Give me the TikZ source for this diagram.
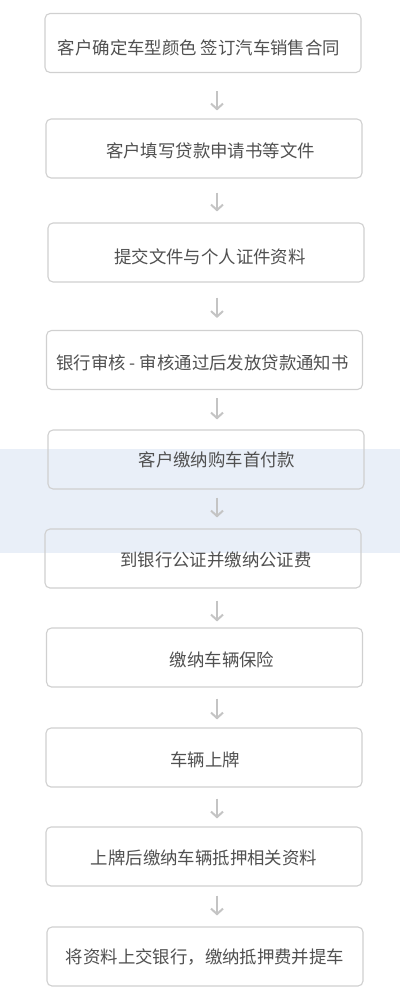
\documentclass[tikz,border=0pt]{standalone}
\usepackage{fontspec}
\setmainfont{Noto Sans CJK SC}
\usetikzlibrary{arrows.meta}
\definecolor{boxline}{RGB}{208,208,208}
\definecolor{txt}{RGB}{80,80,80}
\definecolor{arrcol}{RGB}{196,196,196}
\definecolor{band}{RGB}{233,239,248}
\tikzset{
  stepbox/.style={draw=boxline, line width=1.1pt, rounded corners=5pt,
    minimum width=316pt, minimum height=59pt, inner sep=0pt},
  steptext/.style={text=txt, font=\fontsize{17.4pt}{20pt}\selectfont, inner sep=0pt},
  arr/.style={draw=arrcol, line width=2pt, -{Straight Barb[length=5.5pt,width=12pt,line width=2pt]}}
}
\begin{document}
\begin{tikzpicture}[x=1pt,y=-1pt]
\useasboundingbox (0,0) rectangle (400,1002);
\fill[white] (0,0) rectangle (400,1002);
% overlay band (behind the unfilled boxes)
\fill[band] (0,449) rectangle (400,553);
\coordinate (ax) at (217,0);
% boxes
\node[stepbox] (b1) at (203,43) {};
\node[stepbox] (b2) at (204,148.5) {};
\node[stepbox] (b3) at (206,252.5) {};
\node[stepbox] (b4) at (204.5,360) {};
\node[stepbox] (b5) at (206,459.5) {};
\node[stepbox] (b6) at (203,558.5) {};
\node[stepbox] (b7) at (204.5,657.5) {};
\node[stepbox] (b8) at (204,757.5) {};
\node[stepbox] (b9) at (204,856.5) {};
\node[stepbox] (b10) at (205,956.5) {};
% texts
\node[steptext] (t1) at (199,48) {客户确定车型颜色 签订汽车销售合同};
\node[steptext] (t2) at (210.5,151) {客户填写贷款申请书等文件};
\node[steptext] (t3) at (210,257) {提交文件与个人证件资料};
\node[steptext] (t4) at (202.5,363) {银行审核 - 审核通过后发放贷款通知书};
\node[steptext] (t5) at (217,459.5) {客户缴纳购车首付款};
\node[steptext] (t6) at (216,560) {到银行公证并缴纳公证费};
\node[steptext] (t7) at (222,660) {缴纳车辆保险};
\node[steptext] (t8) at (205,760) {车辆上牌};
\node[steptext] (t9) at (204,858) {上牌后缴纳车辆抵押相关资料};
\node[steptext] (t10) at (205,957) {将资料上交银行，缴纳抵押费并提车};
% arrows
\draw[arr, shorten <=18pt, shorten >=8pt] (b1.south -| ax) -- (b2.north -| ax);
\draw[arr, shorten <=14pt, shorten >=11pt] (b2.south -| ax) -- (b3.north -| ax);
\draw[arr, shorten <=15pt, shorten >=12pt] (b3.south -| ax) -- (b4.north -| ax);
\draw[arr, shorten <=8pt, shorten >=10pt] (b4.south -| ax) -- (b5.north -| ax);
\draw[arr, shorten <=8pt, shorten >=11pt] (b5.south -| ax) -- (b6.north -| ax);
\draw[arr, shorten <=12pt, shorten >=6pt] (b6.south -| ax) -- (b7.north -| ax);
\draw[arr, shorten <=11pt, shorten >=8pt] (b7.south -| ax) -- (b8.north -| ax);
\draw[arr, shorten <=11pt, shorten >=8pt] (b8.south -| ax) -- (b9.north -| ax);
\draw[arr, shorten <=9pt, shorten >=11pt] (b9.south -| ax) -- (b10.north -| ax);
\end{tikzpicture}
\end{document}
